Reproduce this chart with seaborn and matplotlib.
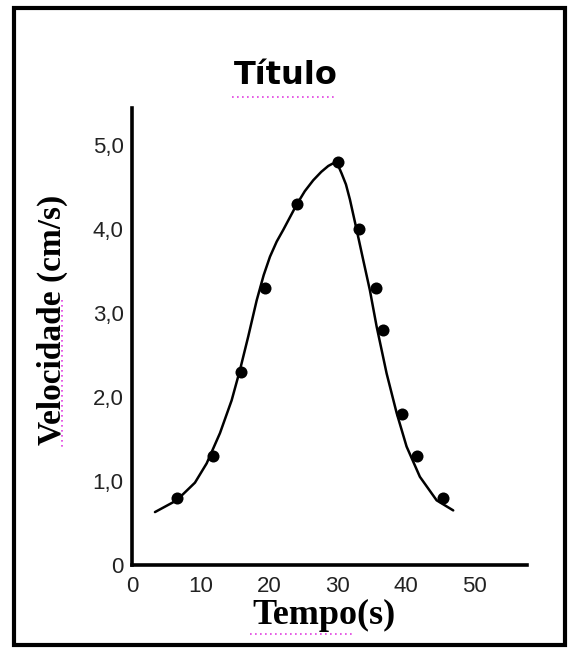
import matplotlib
matplotlib.use("Agg")
import matplotlib.pyplot as plt
import seaborn as sns
import pandas as pd
from matplotlib.patches import Rectangle
from matplotlib.lines import Line2D

# measured points
tempo = [6.6, 11.8, 15.9, 19.4, 24.1, 30.1, 33.1, 35.6, 36.6, 39.3, 41.5, 45.4]
velocidade = [0.8, 1.3, 2.3, 3.3, 4.3, 4.8, 4.0, 3.3, 2.8, 1.8, 1.3, 0.8]

# fitted curve
curva_t = [3.35, 6.52, 9.18, 10.89, 12.83, 14.53, 15.74, 16.95, 18.18, 19.2, 20.12, 21.1, 22.06,
           24.01, 25.2, 26.43, 27.6, 28.62, 29.3, 29.84, 30.2, 30.57, 31.2, 31.78, 32.76, 33.72,
           34.69, 35.67, 37.13, 38.59, 40.04, 41.98, 44.42, 46.84]
curva_v = [0.63, 0.77, 0.98, 1.21, 1.57, 1.96, 2.32, 2.72, 3.15, 3.45, 3.67, 3.85, 3.99,
           4.29, 4.45, 4.58, 4.68, 4.75, 4.78, 4.77, 4.73, 4.66, 4.53, 4.35, 3.99, 3.63,
           3.27, 2.84, 2.28, 1.81, 1.41, 1.05, 0.77, 0.65]

x_ticks = [0, 10, 20, 30, 40, 50]
y_ticks = [0, 1, 2, 3, 4, 5]
y_tick_labels = ["0", "1,0", "2,0", "3,0", "4,0", "5,0"]

sns.set_style("white")

W, H = 570, 650
fig = plt.figure(figsize=(W / 100, H / 100), dpi=100)
ax = fig.add_axes([132 / W, 1 - 565 / H, (527 - 132) / W, (565 - 108) / H])

df_pts = pd.DataFrame({"t": tempo, "v": velocidade})
df_fit = pd.DataFrame({"t": curva_t, "v": curva_v})

sns.lineplot(data=df_fit, x="t", y="v", ax=ax, color="black", linewidth=1.8,
             sort=False, estimator=None)
sns.scatterplot(data=df_pts, x="t", y="v", ax=ax, color="black", s=75,
                edgecolor="black", linewidth=0, zorder=3)

ax.set_xlim(0, 57.6)
ax.set_ylim(0, 5.44)
ax.set_xticks(x_ticks)
ax.set_yticks(y_ticks)
ax.set_yticklabels(y_tick_labels)

for s in ["top", "right"]:
    ax.spines[s].set_visible(False)
for s in ["left", "bottom"]:
    ax.spines[s].set_linewidth(2.6)
    ax.spines[s].set_color("black")

ax.tick_params(axis="x", direction="in", length=6.5, width=1.3, pad=8,
               labelsize=16, colors="black")
ax.tick_params(axis="y", direction="inout", length=12, width=1.3, pad=0,
               labelsize=16, colors="black")
for lab in ax.get_xticklabels() + ax.get_yticklabels():
    lab.set_fontfamily("Liberation Sans")
    lab.set_color("#222222")

ax.set_xlabel("")
ax.set_ylabel("")

# axis titles
fig.text(324 / W, 1 - 615 / H, "Tempo(s)", ha="center", va="center",
         fontsize=26, fontweight="bold", family="Liberation Serif", color="black")
fig.text(52 / W, 1 - 320 / H, "Velocidade (cm/s)", ha="center", va="center",
         rotation=90, fontsize=24, fontweight="bold", family="Liberation Serif",
         color="black")
fig.text(286 / W, 1 - 76 / H, "Título", ha="center", va="center",
         fontsize=23, fontweight="bold", family="DejaVu Sans", color="black")

# spell-check style dotted underlines
mag = "#e040e0"
fig.add_artist(Line2D([232 / W, 337 / W], [1 - 97 / H, 1 - 97 / H], color=mag,
                      linestyle=(0, (1, 2)), linewidth=1.2))
fig.add_artist(Line2D([250 / W, 352 / W], [1 - 634 / H, 1 - 634 / H], color=mag,
                      linestyle=(0, (1, 2)), linewidth=1.2))
fig.add_artist(Line2D([62 / W, 62 / W], [1 - 300 / H, 1 - 449 / H], color=mag,
                      linestyle=(0, (1, 2)), linewidth=1.2))

# outer frame
fig.add_artist(Rectangle((13.5 / W, 1 - 645 / H), (565 - 13.5) / W, (645 - 8) / H,
                         fill=False, edgecolor="black", linewidth=3,
                         transform=fig.transFigure))

fig.savefig("out.png", dpi=100)
